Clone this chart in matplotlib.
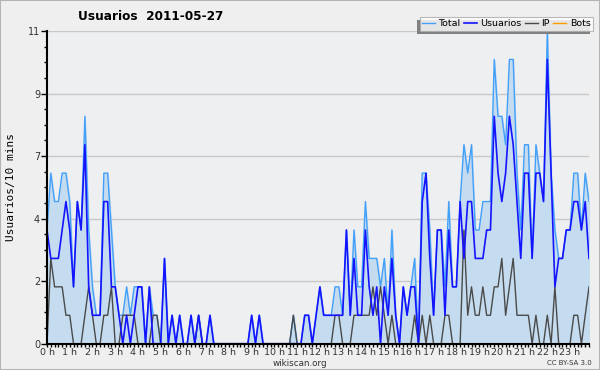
import numpy as np
import matplotlib
matplotlib.use('Agg')
import matplotlib.pyplot as plt
from matplotlib.patches import Rectangle

# values per 10 minutes, one row per hour
total = [4, 6, 5, 5, 6, 6,  5, 2, 5, 4, 8, 4,
         2, 1, 1, 6, 6, 4,  2, 1, 1, 2, 1, 2,
         2, 2, 0, 2, 1, 1,  0, 3, 0, 1, 0, 1,
         0, 0, 1, 0, 1, 0,  0, 1, 0, 0, 0, 0,
         0, 0, 0, 0, 0, 0,  1, 0, 1, 0, 0, 0,
         0, 0, 0, 0, 0, 1,  0, 0, 1, 1, 0, 1,
         2, 1, 1, 1, 2, 2,  1, 4, 1, 4, 2, 2,
         5, 3, 3, 3, 2, 3,  1, 4, 1, 0, 2, 1,
         2, 3, 0, 6, 6, 4,  1, 4, 4, 2, 5, 2,
         2, 5, 7, 6, 7, 4,  4, 5, 5, 5, 10, 8,
         8, 7, 10, 10, 6, 4,  7, 7, 3, 7, 6, 5,
         11, 6, 4, 3, 3, 4,  4, 6, 6, 4, 6, 5]
usuarios = [4, 3, 3, 3, 4, 5,  4, 2, 5, 4, 7, 2,
            1, 1, 1, 5, 5, 2,  2, 1, 0, 1, 0, 1,
            2, 2, 0, 2, 0, 0,  0, 3, 0, 1, 0, 1,
            0, 0, 1, 0, 1, 0,  0, 1, 0, 0, 0, 0,
            0, 0, 0, 0, 0, 0,  1, 0, 1, 0, 0, 0,
            0, 0, 0, 0, 0, 0,  0, 0, 1, 1, 0, 1,
            2, 1, 1, 1, 1, 1,  1, 4, 1, 3, 1, 1,
            4, 2, 1, 2, 0, 2,  1, 3, 1, 0, 2, 1,
            2, 2, 0, 5, 6, 3,  1, 4, 4, 1, 4, 2,
            2, 5, 3, 5, 5, 3,  3, 3, 4, 4, 8, 6,
            5, 6, 8, 7, 5, 3,  6, 6, 3, 6, 6, 5,
            10, 6, 2, 3, 3, 4,  4, 5, 5, 4, 5, 3]
ip = [0, 3, 2, 2, 2, 1,  1, 0, 0, 0, 1, 2,
      1, 0, 0, 1, 1, 2,  0, 0, 1, 1, 1, 1,
      0, 0, 0, 0, 1, 1,  0, 0, 0, 0, 0, 0,
      0, 0, 0, 0, 1, 0,  0, 0, 0, 0, 0, 0,
      0, 0, 0, 0, 0, 0,  0, 0, 0, 0, 0, 0,
      0, 0, 0, 0, 0, 1,  0, 0, 0, 0, 0, 0,
      0, 0, 0, 0, 1, 1,  0, 0, 0, 1, 1, 1,
      1, 1, 2, 1, 2, 1,  0, 1, 0, 0, 0, 0,
      0, 1, 0, 1, 0, 1,  0, 0, 0, 1, 1, 0,
      0, 0, 4, 1, 2, 1,  1, 2, 1, 1, 2, 2,
      3, 1, 2, 3, 1, 1,  1, 1, 0, 1, 0, 0,
      1, 0, 2, 0, 0, 0,  0, 1, 1, 0, 1, 2]
bots = [0] * 144

hour_labels = ['%d h' % h for h in range(24)]
y_ticks = [0, 2.2, 4.4, 6.6, 8.8, 11]
y_labels = ['0', '2', '4', '7', '9', '11']

x = np.arange(len(total))

fig = plt.figure(figsize=(6, 3.7), dpi=100, facecolor='#efefef')
fig.patches.append(Rectangle((0, 0), 1, 1, transform=fig.transFigure,
                             fill=False, edgecolor='#b4b4b4', linewidth=1.5))
ax = fig.add_axes([47 / 600, 26.3 / 370, 542 / 600, 312.7 / 370])
ax.set_facecolor('#eeeff1')

ax.fill_between(x, total, 0, color='#c5dcf0', zorder=1)
ax.plot(x, bots, color='#ff9900', lw=1, zorder=2, label='Bots')
ax.plot(x, total, color='#43a0f8', lw=1, zorder=3, label='Total')
ax.plot(x, ip, color='#4a4a4a', lw=1, zorder=4, label='IP')
ax.plot(x, usuarios, color='#1414ff', lw=1.2, zorder=5, label='Usuarios')

ax.set_xlim(0, 143)
ax.set_ylim(0, 11)
ax.set_xticks(np.arange(0, 144, 6))
ax.set_xticklabels(hour_labels)
ax.set_xticks(x, minor=True)
ax.set_yticks(y_ticks)
ax.set_yticklabels(y_labels)
ax.set_yticks(np.arange(0, 11.01, 0.55), minor=True)
ax.tick_params(axis='y', which='major', labelsize=7, labelcolor='#333333',
               length=4, width=1, pad=1)
ax.tick_params(axis='x', which='major', labelsize=6.8, labelcolor='#333333',
               length=2.5, width=1, pad=0.5)
ax.tick_params(axis='both', which='minor', length=2.5, width=1)
ax.yaxis.grid(True, which='major', color='#c8c8c8', lw=1)
ax.set_axisbelow(True)
for s in ['top', 'right']:
    ax.spines[s].set_visible(False)
for s in ['left', 'bottom']:
    ax.spines[s].set_linewidth(1.5)
    ax.spines[s].set_zorder(6)

ax.set_ylabel('Usuarios/10 mins', family='DejaVu Sans Mono', fontsize=8)
ax.yaxis.set_label_coords(-0.058, 0.5)

fig.text(151 / 600, 1 - 17 / 370, 'Usuarios  2011-05-27', fontsize=8.7,
         fontweight='bold', ha='center', va='center')
fig.text(300 / 600, 1 - 363 / 370, 'wikiscan.org', fontsize=6.3, color='#333333',
         ha='center', va='center')
fig.text(569 / 600, 1 - 363 / 370, 'CC BY-SA 3.0', fontsize=5, color='#333333',
         ha='center', va='center')

handles, labels = ax.get_legend_handles_labels()
order = [1, 3, 2, 0]
leg = fig.legend([handles[i] for i in order], [labels[i] for i in order],
                 loc='upper right', bbox_to_anchor=(593 / 600, 1 - 17 / 370),
                 ncol=4, fontsize=6.8, frameon=True, fancybox=False,
                 borderpad=0.25, handlelength=1.4, handletextpad=0.35,
                 columnspacing=0.35, borderaxespad=0)
leg.get_frame().set_edgecolor('#aaaaaa')
leg.get_frame().set_linewidth(0.8)
leg.set_zorder(10)

# gray shadow at the left and bottom of the legend box
fig.canvas.draw()
bb = leg.get_window_extent().transformed(fig.transFigure.inverted())
fig.patches.append(Rectangle((bb.x0 - 3 / 600, bb.y0 - 3 / 370), bb.width, bb.height,
                             transform=fig.transFigure, facecolor='#808080',
                             edgecolor='none', zorder=9))

plt.savefig('out.png', dpi=100, facecolor=fig.get_facecolor())
